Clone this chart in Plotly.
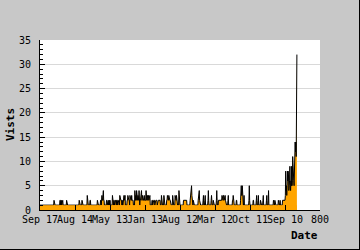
import plotly.graph_objects as go

# Daily visits (index = day number)
visits = [
    1,1,1,1,1,1,1,1,1,1,1,1,1,1,1,1,1,1,1,1,
    1,1,1,1,1,1,1,1,1,1,1,1,1,1,1,1,1,1,1,1,
    2,1,1,1,1,1,1,1,1,1,1,1,1,1,1,1,1,2,2,1,
    2,2,1,2,2,2,1,1,1,1,1,1,1,1,1,1,2,1,1,1,
    1,1,1,1,1,1,1,1,1,1,1,1,1,1,1,1,1,1,1,1,
    1,1,1,1,1,1,1,1,1,1,1,1,2,1,1,1,1,1,1,1,
    2,1,1,1,1,1,1,1,1,1,1,1,1,1,1,3,1,1,1,1,
    1,1,1,2,2,1,1,1,1,1,1,1,1,1,1,1,1,1,1,1,
    1,1,1,1,2,1,1,1,1,1,1,1,1,2,2,1,2,3,2,2,
    3,4,2,2,1,1,1,1,1,1,2,2,1,2,2,2,1,2,2,1,
    2,1,1,1,1,1,1,3,1,1,1,2,2,1,2,2,2,2,1,2,
    2,2,1,2,2,2,2,1,3,2,2,2,2,2,1,2,1,1,3,2,
    3,2,3,3,1,1,1,1,1,2,2,3,2,2,2,2,1,3,2,2,
    2,2,3,2,2,2,2,1,1,1,1,4,2,2,3,2,4,2,2,2,
    3,2,2,4,2,1,2,2,3,2,4,2,2,3,2,2,2,2,3,2,
    2,2,2,4,2,2,3,3,2,3,3,2,3,2,3,1,1,1,1,1,
    2,2,1,2,2,2,2,2,1,2,2,2,2,2,2,1,2,2,2,2,
    2,2,2,2,1,1,1,3,1,1,1,1,1,1,3,1,1,1,1,1,
    1,1,2,2,3,2,2,2,3,2,2,2,2,1,1,1,1,1,1,3,
    1,1,1,1,1,1,3,2,2,2,3,1,1,1,1,1,1,4,1,1,
    1,1,1,1,1,1,1,1,1,1,2,2,2,2,2,2,2,2,2,2,
    1,1,1,1,1,1,1,1,1,2,3,4,5,5,3,2,1,1,2,1,
    1,1,1,1,1,1,1,1,1,1,1,1,2,3,4,4,2,1,1,1,
    1,1,1,1,1,1,2,3,1,1,1,2,3,1,1,1,1,1,1,1,
    2,4,2,1,1,1,1,1,1,2,3,2,1,1,1,2,1,1,1,1,
    1,1,1,1,2,4,2,1,1,1,2,2,2,2,2,2,2,2,2,2,
    3,2,3,2,3,3,2,3,2,3,2,1,1,1,1,1,1,2,3,1,
    1,1,1,1,1,1,1,1,1,1,2,2,3,1,1,1,1,1,1,1,
    1,2,2,1,1,1,1,1,1,1,1,1,1,2,5,5,3,3,5,2,
    1,1,1,3,1,1,1,1,1,1,1,1,1,1,1,1,1,2,5,2,
    1,1,1,1,1,1,1,1,1,2,2,1,1,1,1,1,1,1,2,3,
    1,1,1,2,3,1,1,1,1,1,2,1,1,1,1,1,1,2,3,1,
    1,1,1,1,1,1,1,2,3,1,1,1,2,4,1,1,1,1,1,1,
    1,1,1,1,1,1,1,2,1,1,1,2,1,1,1,1,1,1,1,1,
    1,2,1,1,1,1,2,1,1,1,1,1,1,2,2,2,2,2,2,2,
    2,3,8,4,5,3,5,8,6,8,7,4,5,6,9,5,4,6,5,9,
    5,6,11,7,11,6,5,11,9,14,12,14,11,20,32,
]
days = list(range(len(visits)))
floor = [min(v, 1) for v in visits]

x_tickvals = [0, 100, 200, 300, 400, 500, 600, 700, 800]
x_ticktext = ["Sep 17", "Aug 14", "May 13", "Jan 13", "Aug 12",
              "Mar 12", "Oct 11", "Sep 10", "800"]
y_tickvals = [0, 5, 10, 15, 20, 25, 30, 35]

ORANGE = "#ffa500"
BG = "#c8c8c8"
MONO = "DejaVu Sans Mono, Liberation Mono, monospace"

fig = go.Figure()
fig.add_trace(go.Scatter(x=days, y=visits, mode="lines", fill="tozeroy",
                         fillcolor=ORANGE, line=dict(width=0, color=ORANGE),
                         hoverinfo="skip"))
fig.add_trace(go.Scatter(x=days, y=visits, mode="lines",
                         line=dict(width=1, color="black"), hoverinfo="skip"))
fig.add_trace(go.Scatter(x=days, y=floor, mode="lines", fill="tozeroy",
                         fillcolor=ORANGE, line=dict(width=0, color=ORANGE),
                         hoverinfo="skip"))

W, H = 360, 250
ML, MR, MT, MB = 40, 40, 40, 40
PW, PH = W - ML - MR, H - MT - MB


def px_x(p):
    return (p - ML) / PW


def px_y(p):
    return (H - MB - p) / PH


fig.update_layout(
    width=W, height=H,
    margin=dict(l=ML, r=MR, t=MT, b=MB),
    paper_bgcolor=BG, plot_bgcolor="white",
    showlegend=False,
    font=dict(family=MONO, size=10, color="black"),
    xaxis=dict(range=[0, 800], tickvals=x_tickvals, ticktext=x_ticktext,
               ticks="inside", ticklen=5, tickcolor="black", tickwidth=1,
               showline=True, linecolor="black", linewidth=1,
               showgrid=False, zeroline=False, tickangle=0,
               tickfont=dict(family=MONO, size=10)),
    yaxis=dict(range=[0, 35], tickvals=y_tickvals,
               ticks="inside", ticklen=5, tickcolor="black", tickwidth=1,
               minor=dict(dtick=1, ticks="inside", ticklen=3,
                          tickcolor="black", showgrid=False),
               showline=True, linecolor="black", linewidth=1,
               showgrid=True, gridcolor="#d9d9d9", gridwidth=1,
               zeroline=False, ticklabelstandoff=6,
               tickfont=dict(family=MONO, size=10)),
    annotations=[
        dict(text="<b>Vists</b>", xref="paper", yref="paper",
             x=px_x(10), y=0.5, xanchor="center", yanchor="middle",
             textangle=-90, showarrow=False,
             font=dict(family=MONO, size=11)),
        dict(text="<b>Date</b>", xref="paper", yref="paper",
             x=1.0, y=px_y(236), xanchor="right", yanchor="middle",
             showarrow=False, font=dict(family=MONO, size=11)),
    ],
    shapes=[
        # frame: only its right and bottom edges fall inside the picture
        dict(type="rect", xref="paper", yref="paper",
             x0=px_x(-2), x1=px_x(360), y0=px_y(250), y1=px_y(-2),
             line=dict(color="black", width=2), fillcolor="rgba(0,0,0,0)"),
    ],
)

fig.write_html("out.html", config=dict(displayModeBar=False, staticPlot=True))
